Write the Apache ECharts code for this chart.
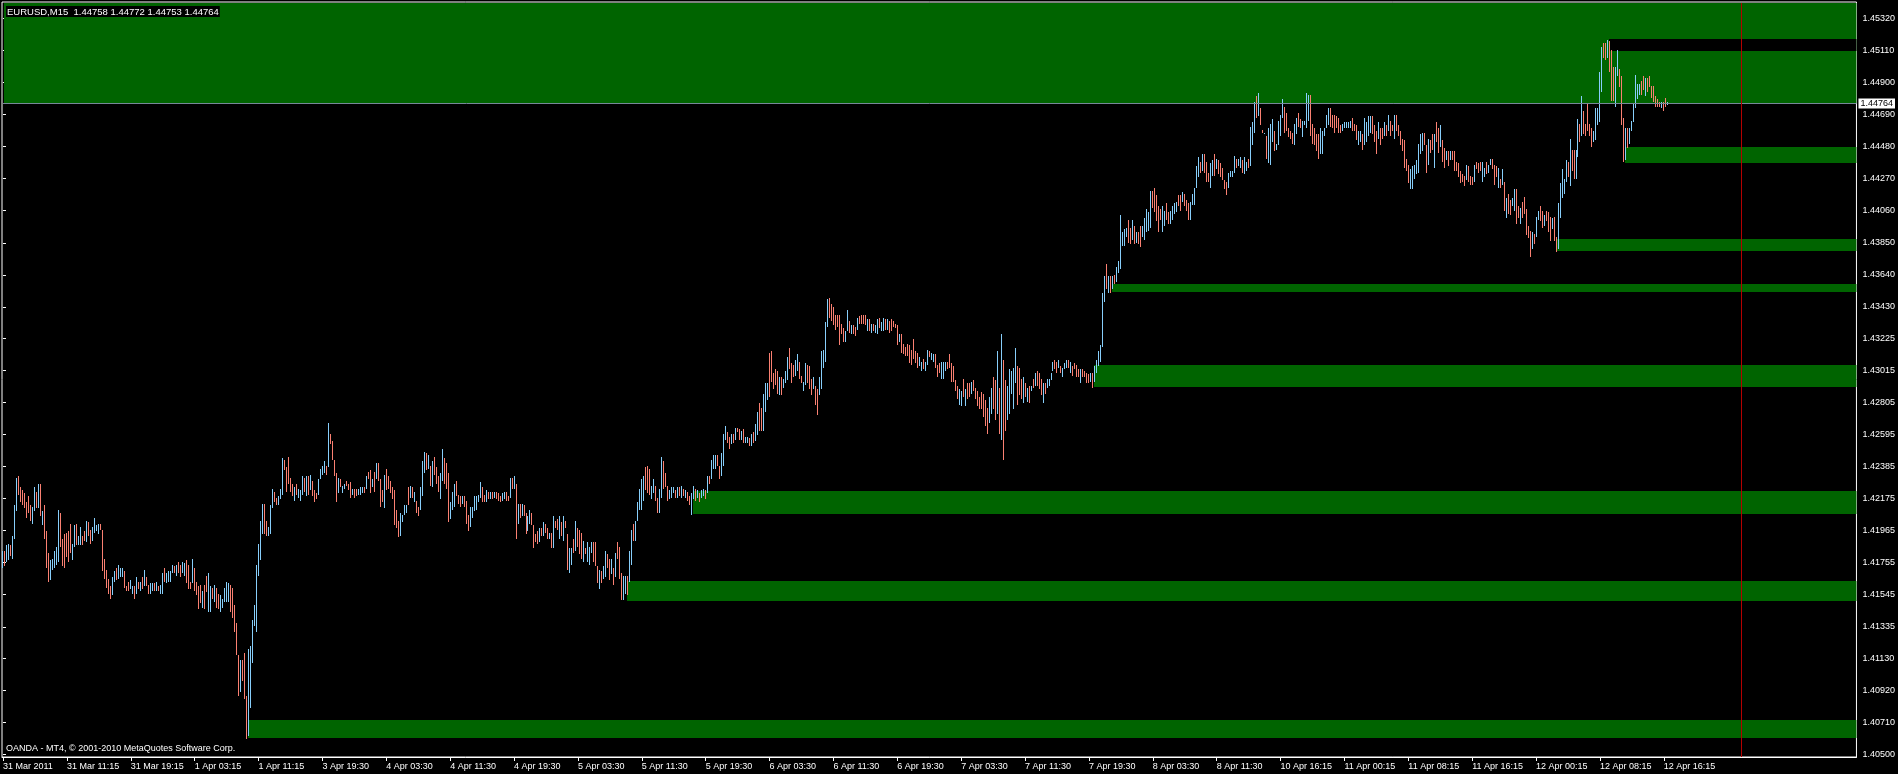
<!DOCTYPE html>
<html><head><meta charset="utf-8">
<script src="https://cdn.jsdelivr.net/npm/echarts@6/dist/echarts.min.js"></script>
<style>html,body{margin:0;padding:0;background:#000;overflow:hidden}#c{width:1898px;height:774px}</style>
</head><body><div id="c"></div><script>
// ---------- data ----------
const symbolText = 'EURUSD,M15  1.44758 1.44772 1.44753 1.44764';
const copyrightText = 'OANDA - MT4, \u00a9 2001-2010 MetaQuotes Software Corp.';
const basePrice = 1.4;            // prices below are in pips above this
const barsPerTimeLabel = 32;      // M15 bars between time labels
const timeLabels = ['31 Mar 2011','31 Mar 11:15','31 Mar 19:15','1 Apr 03:15','1 Apr 11:15','3 Apr 19:30','4 Apr 03:30','4 Apr 11:30','4 Apr 19:30','5 Apr 03:30','5 Apr 11:30','5 Apr 19:30','6 Apr 03:30','6 Apr 11:30','6 Apr 19:30','7 Apr 03:30','7 Apr 11:30','7 Apr 19:30','8 Apr 03:30','8 Apr 11:30','10 Apr 16:15','11 Apr 00:15','11 Apr 08:15','11 Apr 16:15','12 Apr 00:15','12 Apr 08:15','12 Apr 16:15'];
const priceLabels = ['1.45320','1.45110','1.44900','1.44690','1.44480','1.44270','1.44060','1.43850','1.43640','1.43430','1.43225','1.43015','1.42805','1.42595','1.42385','1.42175','1.41965','1.41755','1.41545','1.41335','1.41130','1.40920','1.40710','1.40500'];
const priceMin = 1.40482, priceMax = 1.45427;
const barSlots = 929;             // visible bar slots incl. empty space to the right
const bidPrice = 1.44764;
const separatorBar = 871;

const highs = [
183,183,187,188,187,193,213,231,232,225,
223,221,215,219,213,212,225,222,227,227,
209,213,196,182,177,178,183,186,210,208,
191,194,195,196,201,188,200,201,193,199,
193,196,203,202,197,199,205,200,201,201,
197,178,171,165,160,166,170,172,174,172,
172,170,160,163,164,160,160,166,163,163,
166,171,166,161,162,162,162,163,160,161,
169,172,169,170,170,174,173,174,176,174,
176,175,177,174,163,178,172,163,160,161,
157,161,167,169,160,159,161,159,155,154,
152,159,163,162,161,159,148,136,115,112,
112,116,88,119,121,138,148,174,188,203,
214,214,203,199,213,224,222,218,219,224,
244,243,238,245,231,227,225,227,224,223,
232,231,232,232,233,229,223,221,230,237,
239,242,239,267,260,255,243,234,231,230,
226,227,229,227,228,224,224,224,224,225,
225,225,232,235,236,230,235,241,241,230,
223,233,237,232,229,225,223,210,203,208,
207,213,213,225,226,225,222,216,212,
225,242,248,247,246,239,242,245,238,232,
234,250,244,241,234,215,222,227,229,220,
219,219,219,216,207,212,212,219,219,220,
228,225,220,223,222,222,222,222,222,221,
219,221,222,222,219,231,231,232,227,214,
214,214,213,208,206,210,208,200,194,196,
198,198,202,201,198,195,195,206,203,204,
206,202,206,203,194,185,185,191,203,198,
197,195,190,185,189,186,189,189,189,173,
171,170,173,183,181,178,178,172,182,189,
186,169,167,167,167,183,197,201,203,215,
224,230,232,238,239,237,226,230,226,218,
224,245,242,234,226,223,225,225,223,225,
225,226,224,223,222,219,221,226,224,223,
221,223,224,223,232,232,243,246,246,246,
239,247,260,265,261,258,260,260,264,264,
263,262,263,258,258,257,260,261,266,274,
280,277,286,293,293,313,314,300,302,301,
297,297,296,301,310,316,306,305,308,312,
307,298,294,306,305,304,296,297,291,289,
297,314,315,333,348,349,345,343,338,338,
338,332,329,327,341,334,331,331,330,336,
337,338,338,338,335,335,332,332,331,335,
336,333,336,335,335,334,335,334,332,331,
325,325,319,317,319,318,315,322,314,313,
310,307,309,307,315,314,313,312,312,305,
306,307,307,307,307,312,306,304,295,291,
289,288,296,289,293,293,294,295,290,288,
284,287,286,282,277,284,290,297,295,314,
290,325,308,295,291,302,301,303,316,304,
303,296,297,293,290,291,291,296,300,301,
300,296,293,293,296,296,300,307,308,307,
308,304,303,306,308,308,307,304,306,305,
302,302,302,301,300,299,300,300,304,308,
314,318,352,363,371,363,363,363,364,369,
373,403,392,394,395,400,395,400,396,392,
392,396,396,401,407,405,419,419,421,416,
409,407,409,406,411,405,406,409,411,412,
416,416,418,417,413,411,412,417,421,435,
441,438,443,443,438,431,437,439,443,440,
439,437,434,426,425,431,432,432,442,440,
440,441,439,441,438,440,461,464,477,481,
483,473,459,457,455,460,463,466,458,450,
465,469,479,474,470,460,458,457,463,467,
470,466,465,465,483,482,482,463,460,456,
456,460,458,460,469,473,473,469,469,468,
467,462,463,464,464,464,465,467,463,462,
458,458,456,467,464,468,468,468,462,458,
464,460,460,464,462,469,465,462,469,469,
462,458,453,452,440,436,433,435,436,439,
450,456,457,457,449,453,452,456,456,464,
460,462,452,447,445,445,445,445,445,438,
437,432,430,429,436,435,429,428,436,438,
437,438,438,434,438,436,440,440,436,435,
434,427,433,425,414,417,413,414,420,420,
409,408,412,415,407,396,393,392,391,402,
406,409,406,403,406,405,402,401,402,389,
411,424,433,427,439,438,453,446,446,446,
466,463,481,471,463,476,463,460,458,473,
473,497,513,516,516,518,517,511,500,500,
511,499,494,467,460,460,460,465,476,495,
489,489,491,494,493,493,494,488,488,481,
479,477,477,477,480,477];

const lows = [
172,173,176,177,180,178,191,209,220,215,
213,211,205,208,203,201,209,211,211,206,
200,191,172,163,164,171,172,174,176,186,
173,172,179,176,182,177,186,187,187,187,
187,190,189,193,188,190,195,196,194,197,
170,165,159,155,152,154,163,164,165,166,
166,159,157,157,158,155,152,155,158,157,
158,160,160,155,155,157,157,157,157,155,
155,163,162,163,163,169,169,167,169,166,
169,167,162,158,158,162,157,154,145,149,
146,145,156,143,143,152,150,146,145,143,
146,150,150,150,143,139,130,115,88,91,
98,86,60,62,80,110,134,130,167,177,
194,194,193,193,194,211,215,213,213,217,
220,236,222,227,222,219,216,220,218,216,
220,222,219,220,223,219,215,217,220,230,
233,234,233,238,253,243,232,215,221,225,
221,224,226,223,218,220,218,219,220,220,
221,221,224,230,221,225,222,230,229,212,
215,211,223,224,221,217,200,198,192,193,
202,207,208,213,218,218,215,208,206,
210,219,234,236,237,226,225,233,227,222,
217,229,227,224,202,204,210,212,219,214,
212,214,212,201,196,199,205,209,210,215,
218,215,215,215,217,217,217,218,217,216,
215,216,217,216,216,218,224,224,191,201,
205,206,206,194,196,201,200,185,189,188,
189,193,193,195,191,191,185,185,198,197,
191,193,190,198,171,169,174,182,183,186,
181,178,176,181,176,174,182,176,173,162,
158,162,165,166,172,164,168,161,166,178,
165,151,151,155,154,163,174,190,190,203,
210,210,216,223,221,220,217,221,216,208,
208,218,224,225,216,217,218,221,218,218,
219,218,219,218,216,213,207,217,216,218,
215,218,219,217,221,227,230,237,237,239,
230,232,239,256,254,250,253,254,256,261,
256,256,254,254,254,252,252,254,255,259,
262,262,262,274,282,284,294,289,292,286,
285,285,290,293,295,302,293,297,298,301,
296,293,288,292,293,289,285,289,279,272,
285,289,303,307,330,336,334,331,328,330,
318,325,320,320,327,326,325,325,324,328,
332,332,332,331,327,327,326,327,326,325,
329,327,327,328,328,326,327,330,329,318,
320,313,312,311,311,306,305,309,306,303,
304,301,302,301,305,310,308,307,303,297,
300,296,296,301,302,303,294,294,288,283,
279,278,284,278,283,284,286,288,283,278,
276,276,271,265,260,267,273,276,269,273,
260,256,243,262,269,273,286,276,293,279,
285,283,280,284,281,280,288,290,291,291,
289,285,280,286,290,291,295,301,302,300,
303,300,297,302,303,303,300,298,302,297,
297,293,297,297,293,293,294,290,294,300,
304,307,317,346,355,352,352,355,358,359,
365,368,383,383,389,385,384,387,384,385,
384,382,389,387,392,393,395,408,405,399,
392,400,392,396,400,397,397,400,404,405,
409,406,412,409,406,400,400,410,410,421,
428,431,432,431,425,425,421,429,429,433,
430,428,426,420,416,421,428,428,431,434,
435,434,431,430,432,434,435,449,457,467,
468,462,457,456,440,437,436,451,445,446,
449,455,467,457,458,454,453,450,449,456,
461,460,454,462,460,465,455,450,449,445,
440,443,443,455,460,462,461,460,457,460,
457,457,458,460,460,460,460,458,458,452,
449,451,446,449,451,455,457,456,451,443,
453,449,453,455,455,458,455,458,453,458,
455,449,445,434,432,424,420,420,427,430,
431,443,445,449,431,436,444,446,434,451,
444,448,438,434,439,435,439,439,432,432,
428,424,425,422,426,425,423,423,425,433,
431,432,425,428,430,431,436,433,423,428,
421,421,423,406,401,404,403,409,406,397,
401,397,401,404,390,388,376,381,384,389,
400,399,395,396,399,392,386,394,386,379,
381,401,414,417,425,428,422,432,427,427,
441,451,455,456,455,458,455,448,451,452,
462,464,484,506,505,506,497,478,478,474,
494,487,462,438,439,447,450,458,464,473,
479,482,482,485,481,484,487,480,477,474,
474,474,473,471,474,475];

// u = up bar (close > open), d = down bar
const dirs = `
u d u u d u u u d d  d d d d d u u d u d  u d d d u u u u u d  d d d d d u u d u u
d d u d d u u u u d  d d d d d u u d u u  u d d d u u d u d u  d u d d u u d u d u
u d u u u u d u d d  u u d d d u d d d d  u d d u u d u d d u  u u u u d d d d d u
d d d u u u u u u u  u d d u u u d d u u  u d d d d d u d u u  u d u d u d d d u u
u u d u d d d d u d  u u d d d u d d u u  u d u d d u d u d d  d u d d d d d d d u
u u u d u d u d d
u u u d u d u d d d  u u d d d u u u d d  d u d d d u u u u u  u d d u d u d u d d
d u u d d u d u d u  d u d d u u d d d d  u d u d d u d u d d  u d u d d u u d u d
d d u d u u u d d d  u d u u d d u d u d  d d u u d u u d u u  u u u d d d u u d d
u u d d d u u u d u  d u d u d d u u d u  d u u d u d u u u d  d u u u d d u d u d
d u d u u d u d u u  d d u u u d d d d d  u d u u u d d d u u  d d u u d d d u d d
u u u u u d d d d d
d d d u u d u d d u  d d d d u d u d u u  d u u d u d d d d d  u d d d d d d d d d
u u d u u d u u d d  d u u u d d d d d d  u u d u d d u d d d  d d d d d u u d d u
d u d d u u u u u d  d d u d u d u d u d  d d u d u u u u d d  u d u u u d u d d d
d u d d d d u d u u  u u u u d u d u d u  u u u u u d d u d u  d d u u u u u d d d
d d u u d d u u u u  d d u d d d u u u u  u d u d d d u u d u  d d d d d u u u u d
u u d u u d u u u d
u d d u d u u u d u  u u u d d d d d u u  d d u u u u d d d d  d u u u u u d d d d
d d u u u u u d d d  u u d u u u u d d d  u d d u d u d d u d  d d d d d d u u u u
u u u d d u d d u d  d u d d u d u d d d  d d d d u d d d u d  d d u u d u u d d d
u d u d u d d u u d  d u d d d d d u d u  u d d u d d d u d d  u u u u u d u d d u
u d u d d d d d u u  u u u d d u d d d u  u d d d u d u u u u  u u d d u d d d d d
d d u d d u`.trim().split(/\s+/);

// support / resistance zones: [start bar, low pips, high pips]
const zones = [
  [0, 476.4, 560],
  [812, 437.3, 447.7],
  [778, 379.7, 387.6],
  [555, 352.8, 358.0],
  [546, 290.6, 305.0],
  [345, 207.4, 222.4],
  [312, 150.4, 163.5],
  [122, 60.7, 72.5]
];
// overlapping part of two zones (drawn XOR -> black)
const overlapBands = [[804, 510.6, 518.4]];

// ---------- chart ----------
const UP = '#87CEFA', DOWN = '#FA8072', ZONE = '#006400';
const FONT = 'Liberation Sans';
const toPrice = p => basePrice + p / 10000;
const barData = highs.map((h, i) => [i, toPrice(h), toPrice(lows[i]), dirs[i] === 'u' ? 1 : 0]);

function zoneRenderer(color) {
  return function (params, api) {
    const cs = params.coordSys;
    const a = api.coord([api.value(0), api.value(2)]);
    const b = api.coord([api.value(0), api.value(1)]);
    const x0 = Math.round(a[0]) + 1;
    const top = Math.max(Math.round(a[1]), cs.y + 1);
    const bottom = Math.min(Math.round(b[1]), cs.y + cs.height);
    return {type: 'rect', shape: {x: x0, y: top, width: cs.x + cs.width - x0, height: bottom - top},
            style: {fill: color}};
  };
}

const chart = echarts.init(document.getElementById('c'), null, {renderer: 'canvas'});
chart.setOption({
  backgroundColor: '#000',
  animation: false,
  title: [
    {text: symbolText, left: 6, top: 6, padding: [1, 1, 0, 1], backgroundColor: '#000',
     textStyle: {color: '#fff', fontSize: 9.5, fontWeight: 'normal', fontFamily: FONT, lineHeight: 10}},
    {text: copyrightText, left: 6, top: 744, padding: 0,
     textStyle: {color: '#fff', fontSize: 9, fontWeight: 'normal', fontFamily: FONT, lineHeight: 10}}
  ],
  grid: {left: 2, right: 38, top: 2, bottom: 17, show: true, borderColor: '#fff', borderWidth: 1, backgroundColor: '#000'},
  xAxis: {
    type: 'value', min: -0.5, max: barSlots - 0.5,
    splitLine: {show: false},
    axisLine: {show: true, lineStyle: {color: '#fff', width: 1}},
    axisTick: {show: true, length: 4, lineStyle: {color: '#fff'},
               customValues: timeLabels.map((_, k) => k * barsPerTimeLabel)},
    axisLabel: {show: true, color: '#fff', fontSize: 9, fontFamily: FONT, align: 'left', margin: 5,
                customValues: timeLabels.map((_, k) => k * barsPerTimeLabel),
                formatter: v => timeLabels[Math.round(v / barsPerTimeLabel)] || ''}
  },
  yAxis: {
    type: 'value', position: 'right', min: priceMin, max: priceMax, scale: true,
    splitLine: {show: false},
    axisLine: {show: false},
    axisTick: {show: true, length: 3, lineStyle: {color: '#fff'}, customValues: priceLabels.map(Number)},
    axisLabel: {show: true, color: '#fff', fontSize: 9, fontFamily: FONT, margin: 6,
                customValues: priceLabels.map(Number), formatter: v => v.toFixed(5)}
  },
  series: [
    {type: 'custom', name: 'zones', renderItem: zoneRenderer(ZONE), clip: true, silent: true,
     data: zones.map(z => [z[0], toPrice(z[1]), toPrice(z[2])]), z: 1},
    {type: 'custom', name: 'overlap', renderItem: zoneRenderer('#000'), clip: true, silent: true,
     data: overlapBands.map(z => [z[0], toPrice(z[1]), toPrice(z[2])]), z: 1},
    {type: 'custom', name: 'bars', clip: true, silent: true, z: 2,
     data: barData,
     renderItem: function (params, api) {
       const t = api.coord([api.value(0), api.value(1)]);
       const b = api.coord([api.value(0), api.value(2)]);
       const x = Math.floor(t[0]);
       const y = Math.round(t[1]);
       const h = Math.max(1, Math.round(b[1]) - y);
       return {type: 'rect', shape: {x: x, y: y, width: 1, height: h},
               style: {fill: api.value(3) ? UP : DOWN}};
     }},
    {type: 'custom', name: 'bid', clip: false, silent: true, z: 5,
     data: [[0, bidPrice]],
     renderItem: function (params, api) {
       const cs = params.coordSys;
       const y = Math.round(api.coord([0, api.value(1)])[1]) + 0.5;
       return {type: 'group', children: [
         {type: 'line', shape: {x1: cs.x + 1, y1: y, x2: cs.x + cs.width, y2: y},
          style: {stroke: '#778899', lineWidth: 1}},
         {type: 'text', x: cs.x + cs.width + 2, y: y,
          style: {text: api.value(1).toFixed(5), fill: '#000', backgroundColor: '#fff',
                  padding: [1, 2, 0, 2], font: '9px "Liberation Sans"', align: 'left', verticalAlign: 'middle'}}
       ]};
     }},
    {type: 'custom', name: 'separator', clip: true, silent: true, z: 5,
     data: [[separatorBar, priceMin]],
     renderItem: function (params, api) {
       const cs = params.coordSys;
       const x = Math.floor(api.coord([api.value(0), api.value(1)])[0]) + 0.5;
       return {type: 'line', shape: {x1: x, y1: cs.y + 1, x2: x, y2: cs.y + cs.height},
               style: {stroke: '#B40000', lineWidth: 1}};
     }}
  ]
});
</script></body></html>
